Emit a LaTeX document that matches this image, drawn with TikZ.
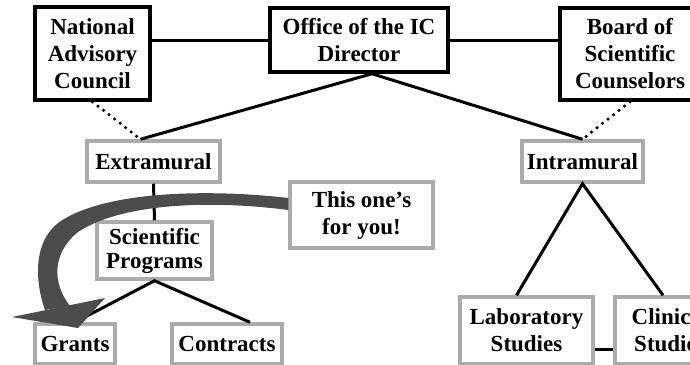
\documentclass[tikz,border=0pt]{standalone}
\usepackage{fontspec}
\setmainfont{Liberation Serif}
\usetikzlibrary{positioning}

\begin{document}
\begin{tikzpicture}[x=1pt,y=-1pt,
    every node/.style={font=\fontsize{23}{27}\selectfont\bfseries,align=center,inner sep=0pt,fill=white},
    topbox/.style={draw=black,line width=3.5pt},
    subbox/.style={draw=black!33,line width=3.5pt},
    link/.style={line width=3pt},
    dots/.style={line width=3.5pt,line cap=round,dash pattern=on 0pt off 7pt},
    swoosh/.style={fill=black!70}]
  	\newcommand{\boxw}{115}
    \clip (0,0) rectangle (690,364);

    % top row
    \node[topbox,minimum width=\boxw,minimum height=93] (nac) at (92.5,53.5) {National\\Advisory\\Council};
    \node[topbox,minimum width=178,minimum height=64] (office) at (359,40) {Office of the IC\\Director};
    \node[topbox,minimum width=140,minimum height=92] (board) at (630,54) {Board of\\Scientific\\Counselors};

    % second row
    \node[subbox,minimum width=133,minimum height=41] (extra) at (153.5,161.5) {Extramural};
    \node[subbox,minimum width=121,minimum height=41] (intra) at (582.5,161.5) {Intramural};

    \node[subbox,minimum width=\boxw,minimum height=57] (sci) at (154.5,250.5) {Scientific\\[-3pt]Programs};
    \node[subbox,minimum width=143,minimum height=66] (you) at (361.5,215) {This one's\\for you!};

    % bottom row
    \node[subbox,minimum width=80,minimum height=40] (grants) at (75,344) {Grants};
    \node[subbox,minimum width=110,minimum height=40] (contracts) at (227,344) {Contracts};
    \node[subbox,minimum width=133,minimum height=67] (lab) at (526.5,330.5) {Laboratory\\Studies};
    \node[subbox,minimum width=110,minimum height=67] (clin) at (670,330.5) {Clinical\\Studies};

    \draw[link] (nac.east |- office) -- (office.west);
    \draw[link] (office.east) -- (board.west |- office);
    \draw[link] ([xshift=-13pt]extra.north) -- ([xshift=13pt]office.south) -- (intra.north);
    \draw[dots] (nac.south) -- ([xshift=-13pt]extra.north);
    \draw[dots] (board.south) -- (intra.north);
    \draw[link] (extra.south) -- (sci.north);
    \draw[link] (grants.north) -- (sci.south) -- ([xshift=23pt]contracts.north);
    \draw[link] ([xshift=-10pt]lab.north) -- (intra.south) -- ([xshift=-7pt]clin.north);
    \draw[link] ([yshift=-19pt]lab.east) -- ([yshift=-19pt]clin.west);

    % the big arrow, wider towards its head
    \fill[swoosh] ([yshift=17pt]you.west) .. controls (220,190) and (115,189) .. (64,219)
      .. controls (30,239) and (36,285) .. (45,310) -- (70,306)
      .. controls (52,283) and (52,253) .. (78,232)
      .. controls (125,201) and (220,201) .. ([yshift=5pt]you.west) -- cycle;
    \fill[swoosh] (12,317) -- (105,298) -- (78,328) -- cycle;
  \end{tikzpicture}
\end{document}
